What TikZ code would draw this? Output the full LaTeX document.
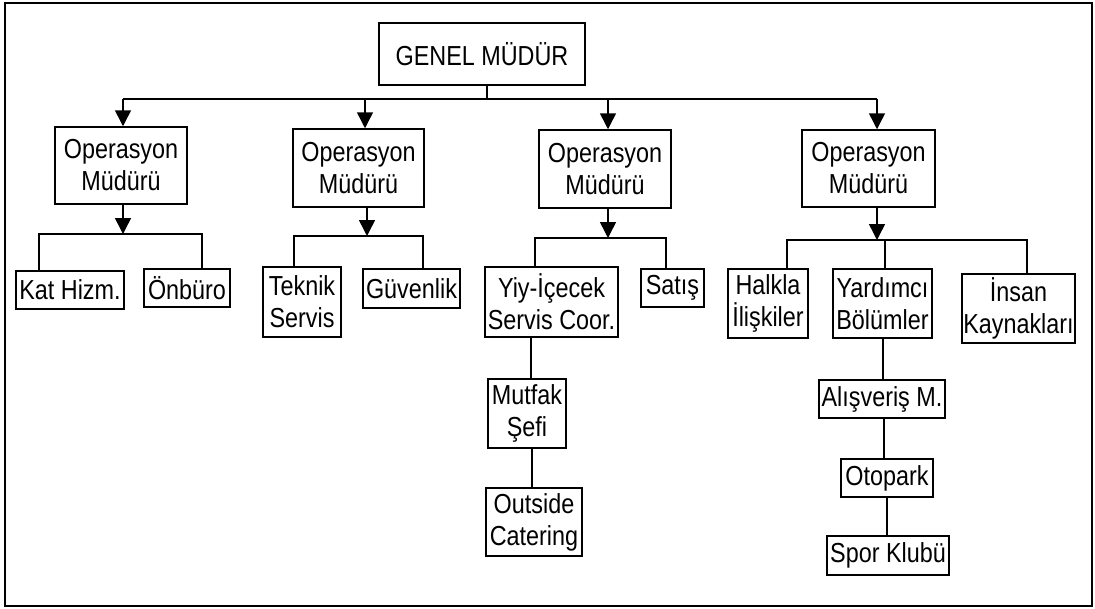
\documentclass[tikz,border=0pt]{standalone}
\usepackage{fontspec}
\setmainfont{Liberation Sans}[FakeStretch=0.85]
\usetikzlibrary{arrows.meta}
\begin{document}
\begin{tikzpicture}[x=1pt,y=-1pt,
  box/.style={draw,line width=1.5pt,inner sep=0pt,align=center,font=\fontsize{27.5}{32}\selectfont},
  ln/.style={line width=1.5pt},
  arr/.style={ln,-{Triangle[length=16pt,width=16pt]}}]
\useasboundingbox (0,0) rectangle (1095,608);
\draw[line width=1.8pt] (5,3) rectangle (1092,606);
% nodes
\node[box,minimum width=206pt,minimum height=62pt] (gm) at (482,54) {GENEL MÜDÜR};
\node[box,minimum width=132pt,minimum height=77pt] (op1) at (121,165.5) {Operasyon\\Müdürü};
\node[box,minimum width=131pt,minimum height=78pt] (op2) at (358.5,168) {Operasyon\\Müdürü};
\node[box,minimum width=132pt,minimum height=78pt] (op3) at (605,169) {Operasyon\\Müdürü};
\node[box,minimum width=133pt,minimum height=77pt] (op4) at (868.5,168.5) {Operasyon\\Müdürü};
\node[box,minimum width=108pt,minimum height=38pt] (kat) at (70,290) {Kat Hizm.};
\node[box,minimum width=86pt,minimum height=38pt] (onb) at (187,288) {Önbüro};
\node[box,minimum width=78pt,minimum height=70pt] (tek) at (302,302) {Teknik\\Servis};
\node[box,minimum width=97pt,minimum height=39pt] (guv) at (411.5,288.5) {Güvenlik};
\node[box,minimum width=133pt,minimum height=70pt] (yiy) at (551.5,302) {Yiy-İçecek\\Servis Coor.};
\node[box,minimum width=63pt,minimum height=38pt] (sat) at (672.5,288) {Satış};
\node[box,minimum width=80pt,minimum height=69pt] (hal) at (768,303.5) {Halkla\\İlişkiler};
\node[box,minimum width=99pt,minimum height=69pt] (yar) at (882.5,303.5) {Yardımcı\\Bölümler};
\node[box,minimum width=113pt,minimum height=69pt] (ins) at (1018.5,308.5) {İnsan\\Kaynakları};
\node[box,minimum width=78pt,minimum height=69pt] (mut) at (527,413.5) {Mutfak\\Şefi};
\node[box,minimum width=96pt,minimum height=68pt] (out) at (534,522) {Outside\\Catering};
\node[box,minimum width=126pt,minimum height=38pt] (ali) at (882,399) {Alışveriş M.};
\node[box,minimum width=92pt,minimum height=38pt] (oto) at (887,478) {Otopark};
\node[box,minimum width=122pt,minimum height=39pt] (spo) at (888,555.5) {Spor Klubü};
% top level bus
\coordinate (gs) at (487,99);
\coordinate (b1) at (123,99);
\coordinate (b2) at (365,99);
\coordinate (b3) at (608,99);
\coordinate (b4) at (877,99);
\draw[ln] (gm.south -| gs) -- (gs);
\draw[ln] (b1) -- (b4);
\draw[arr] (b1) -- (op1.north -| b1);
\draw[arr] (b2) -- (op2.north -| b2);
\draw[arr] (b3) -- (op3.north -| b3);
\draw[arr] (b4) -- (op4.north -| b4);
% branch 1
\coordinate (a1) at (123,234);
\coordinate (s1L) at (39,234);
\coordinate (s1R) at (202,234);
\draw[arr] (op1.south -| a1) -- (a1);
\draw[ln] (kat.north -| s1L) -- (s1L) -- (s1R) -- (onb.north -| s1R);
% branch 2
\coordinate (a2) at (367,236);
\coordinate (s2L) at (294,236);
\coordinate (s2R) at (423,236);
\draw[arr] (op2.south -| a2) -- (a2);
\draw[ln] (tek.north -| s2L) -- (s2L) -- (s2R) -- (guv.north -| s2R);
% branch 3
\coordinate (a3) at (608,238);
\coordinate (s3L) at (535,238);
\coordinate (s3R) at (666,238);
\draw[arr] (op3.south -| a3) -- (a3);
\draw[ln] (yiy.north -| s3L) -- (s3L) -- (s3R) -- (sat.north -| s3R);
\coordinate (c1) at (531,0);
\coordinate (c2) at (532,0);
\draw[ln] (yiy.south -| c1) -- (mut.north -| c1);
\draw[ln] (mut.south -| c2) -- (out.north -| c2);
% branch 4
\coordinate (a4) at (877,240);
\coordinate (s4L) at (787,240);
\coordinate (s4M) at (885,240);
\coordinate (s4R) at (1027,240);
\draw[arr] (op4.south -| a4) -- (a4);
\draw[ln] (hal.north -| s4L) -- (s4L) -- (s4R) -- (ins.north -| s4R);
\draw[ln] (s4M) -- (yar.north -| s4M);
\coordinate (d1) at (883,0);
\coordinate (d2) at (884,0);
\coordinate (d3) at (887,0);
\draw[ln] (yar.south -| d1) -- (ali.north -| d1);
\draw[ln] (ali.south -| d2) -- (oto.north -| d2);
\draw[ln] (oto.south -| d3) -- (spo.north -| d3);
\end{tikzpicture}
\end{document}
